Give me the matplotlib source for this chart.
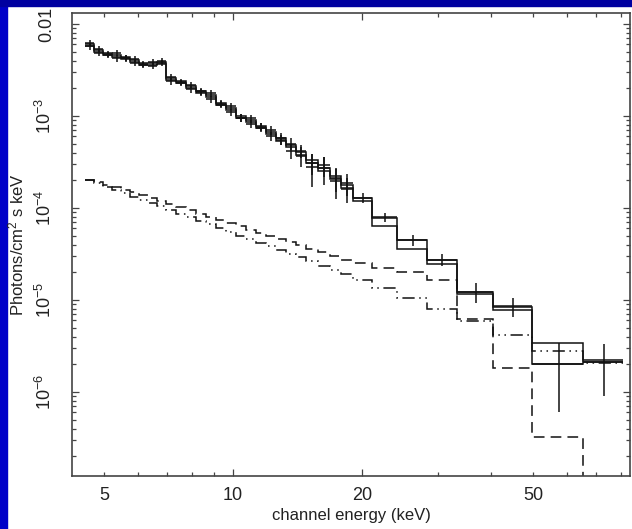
import numpy as np
import matplotlib.pyplot as plt
from matplotlib.patches import Rectangle
from matplotlib.ticker import FixedLocator, FixedFormatter, LogLocator, NullFormatter

plt.rcParams['font.family'] = ['Liberation Sans', 'DejaVu Sans']
plt.rcParams['mathtext.fontset'] = 'custom'
plt.rcParams['mathtext.rm'] = 'Liberation Sans'
plt.rcParams['mathtext.it'] = 'Liberation Sans:italic'

# channel bin edges (keV)
edges = [4.52, 4.74, 4.97, 5.22, 5.48, 5.75, 6.03, 6.33, 6.65, 6.97, 7.36,
         7.76, 8.19, 8.64, 9.12, 9.63, 10.16, 10.72, 11.31, 11.93, 12.59,
         13.29, 14.02, 14.79, 15.77, 16.82, 17.84, 19.0, 21.1, 24.1, 28.3,
         33.2, 40.3, 49.7, 65.4, 81.0]

# total model, group 1 and group 2
model_a = [6.06e-3, 5.21e-3, 4.84e-3, 4.61e-3, 4.38e-3, 4.06e-3, 3.77e-3,
           3.77e-3, 3.87e-3, 2.59e-3, 2.40e-3, 2.12e-3, 1.87e-3, 1.69e-3,
           1.38e-3, 1.22e-3, 1.00e-3, 9.05e-4, 7.79e-4, 6.70e-4, 5.76e-4,
           4.84e-4, 4.06e-4, 3.33e-4, 2.72e-4, 2.23e-4, 1.78e-4, 1.28e-4,
           7.8e-5, 4.5e-5, 2.72e-5, 1.22e-5, 8.4e-6, 3.4e-6, 2.2e-6]
model_b = [5.7e-3, 5.0e-3, 4.6e-3, 4.4e-3, 4.15e-3, 3.9e-3, 3.6e-3, 3.6e-3,
           3.7e-3, 2.48e-3, 2.30e-3, 2.02e-3, 1.80e-3, 1.60e-3, 1.32e-3,
           1.15e-3, 9.5e-4, 8.6e-4, 7.4e-4, 6.3e-4, 5.4e-4, 4.55e-4, 3.8e-4,
           3.1e-4, 2.55e-4, 2.08e-4, 1.65e-4, 1.18e-4, 6.4e-5, 3.6e-5,
           2.46e-5, 1.15e-5, 7.8e-6, 2.0e-6, 2.1e-6]

# model components
comp_dash = [2.01e-4, 1.90e-4, 1.80e-4, 1.69e-4, 1.58e-4, 1.48e-4, 1.38e-4,
             1.28e-4, 1.19e-4, 1.10e-4, 1.02e-4, 9.4e-5, 8.7e-5, 8.0e-5,
             7.4e-5, 6.8e-5, 6.3e-5, 5.8e-5, 5.4e-5, 5.0e-5, 4.6e-5,
             4.25e-5, 3.95e-5, 3.6e-5, 3.3e-5, 3.0e-5, 2.75e-5, 2.5e-5,
             2.25e-5, 2.01e-5, 1.65e-5, 6.2e-6, 1.82e-6, 3.24e-7, 1e-9]
comp_dot = [2.00e-4, 1.85e-4, 1.70e-4, 1.57e-4, 1.44e-4, 1.33e-4, 1.22e-4,
            1.13e-4, 1.04e-4, 9.53e-5, 8.69e-5, 7.94e-5, 7.24e-5, 6.62e-5,
            6.03e-5, 5.51e-5, 5.02e-5, 4.59e-5, 4.19e-5, 3.83e-5, 3.49e-5,
            3.19e-5, 2.90e-5, 2.63e-5, 2.36e-5, 2.12e-5, 1.91e-5, 1.66e-5,
            1.36e-5, 1.05e-5, 8.02e-6, 5.93e-6, 4.21e-6, 2.79e-6, 2.07e-6]

# data, group 1 (all channels)
data_a = [6.2e-3, 5.4e-3, 4.6e-3, 4.8e-3, 4.3e-3, 4.2e-3, 3.6e-3, 3.9e-3,
          3.95e-3, 2.65e-3, 2.3e-3, 2.2e-3, 1.82e-3, 1.76e-3, 1.33e-3,
          1.28e-3, 9.6e-4, 9.4e-4, 7.5e-4, 7.0e-4, 5.5e-4, 5.0e-4, 4.2e-4,
          3.1e-4, 2.9e-4, 2.1e-4, 1.85e-4, 1.3e-4, 7.9e-5, 4.5e-5, 2.75e-5,
          1.22e-5, 8.6e-6, 2.0e-6, 2.1e-6]
err_a = [4.5e-4, 4.0e-4, 3.6e-4, 3.6e-4, 3.3e-4, 3.2e-4, 2.9e-4, 2.9e-4,
         2.9e-4, 2.0e-4, 1.8e-4, 1.7e-4, 1.5e-4, 1.4e-4, 1.2e-4, 1.1e-4,
         9e-5, 9e-5, 8e-5, 7.5e-5, 7e-5, 7e-5, 7e-5, 8e-5, 7e-5, 6e-5,
         5e-5, 1.6e-5, 9e-6, 6e-6, 4e-6, 3e-6, 2.0e-6, 1.4e-6, 1.2e-6]

# data, group 2 (below 19 keV)
data_b = [5.7e-3, 4.9e-3, 4.75e-3, 4.25e-3, 4.25e-3, 3.8e-3, 3.7e-3,
          3.5e-3, 3.8e-3, 2.4e-3, 2.36e-3, 1.96e-3, 1.86e-3, 1.52e-3,
          1.36e-3, 1.10e-3, 9.6e-4, 8.2e-4, 7.6e-4, 6.0e-4, 5.7e-4, 4.2e-4,
          3.7e-4, 2.8e-4, 2.7e-4, 1.95e-4, 1.62e-4]
err_b = [4.5e-4, 4.0e-4, 3.7e-4, 3.4e-4, 3.4e-4, 3.1e-4, 3.0e-4, 2.9e-4,
         3.0e-4, 2.0e-4, 1.9e-4, 1.6e-4, 1.5e-4, 1.3e-4, 1.2e-4, 1.0e-4,
         9e-5, 8e-5, 8e-5, 7e-5, 8e-5, 8e-5, 9e-5, 1.1e-4, 9e-5, 7e-5,
         5e-5]

edges = np.array(edges)
lo = edges[:-1]
hi = edges[1:]
mid = (lo + hi) / 2
nb = len(data_b)

fig = plt.figure(figsize=(6.32, 5.29), dpi=100)
fig.patch.set_facecolor('white')
fig.patches.append(Rectangle((0, 0), 7 / 632, 1, transform=fig.transFigure,
                             color='#0000c8', zorder=-10))
fig.patches.append(Rectangle((0, 1 - 6 / 529), 1, 6 / 529,
                             transform=fig.transFigure, color='#0000a0',
                             zorder=-10))

ax = fig.add_axes([0.1139, 0.1002, 0.883, 0.8752])
ink = '#111111'

ax.stairs(model_a, edges, baseline=None, color=ink, lw=1.1)
ax.stairs(model_b, edges, baseline=None, color=ink, lw=1.1)
ax.stairs(comp_dash, edges, baseline=None, color=ink, lw=1.1,
          linestyle=(0, (7, 4)))
ax.stairs(comp_dot, edges, baseline=None, color=ink, lw=1.1,
          linestyle=(0, (8, 3, 1, 3, 1, 3)))

ax.errorbar(mid, data_a, xerr=[mid - lo, hi - mid], yerr=err_a, fmt='none',
            ecolor=ink, elinewidth=1.1, capsize=0)
ax.errorbar(mid[:nb], data_b, xerr=[mid[:nb] - lo[:nb], hi[:nb] - mid[:nb]],
            yerr=err_b, fmt='none', ecolor=ink, elinewidth=1.1, capsize=0)

ax.set_xscale('log')
ax.set_yscale('log')
ax.set_xlim(4.21, 84.2)
ax.set_ylim(1.22e-7, 1.318e-2)

# long ticks at 10 and 20, short labelled ticks at 5 and 50
ax.xaxis.set_major_locator(FixedLocator([10, 20]))
ax.xaxis.set_major_formatter(FixedFormatter(['10', '20']))
ax.xaxis.set_minor_locator(FixedLocator([5, 6, 7, 8, 9, 30, 40, 50, 60, 70,
                                         80]))
ax.xaxis.set_minor_formatter(FixedFormatter(['5', '', '', '', '', '', '',
                                             '50', '', '', '']))

ax.yaxis.set_major_locator(FixedLocator([1e-6, 1e-5, 1e-4, 1e-3, 1e-2]))
ax.yaxis.set_major_formatter(FixedFormatter(
    ['$10^{-6}$', '$10^{-5}$', '$10^{-4}$', '$10^{-3}$', '0.01']))
ax.yaxis.set_minor_locator(LogLocator(base=10, subs=np.arange(2, 10)))
ax.yaxis.set_minor_formatter(NullFormatter())

for s in ax.spines.values():
    s.set_color('#444444')
    s.set_linewidth(1.2)
ax.tick_params(which='both', direction='in', top=True, right=True,
               color='#444444', width=0.9, labelsize=13, labelcolor='#222222')
ax.tick_params(which='major', length=5)
ax.tick_params(which='minor', length=3)
ax.tick_params(axis='x', which='both', pad=8)
ax.tick_params(axis='y', pad=12)
for t in ax.get_yticklabels():
    t.set_rotation(90)
    t.set_va('center')

ax.set_xlabel('channel energy (keV)', fontsize=12, color='#222222', labelpad=3)
ax.set_ylabel('Photons/cm$^2$ s keV', fontsize=12, color='#222222',
              labelpad=6)

fig.savefig('out.png', dpi=100)
